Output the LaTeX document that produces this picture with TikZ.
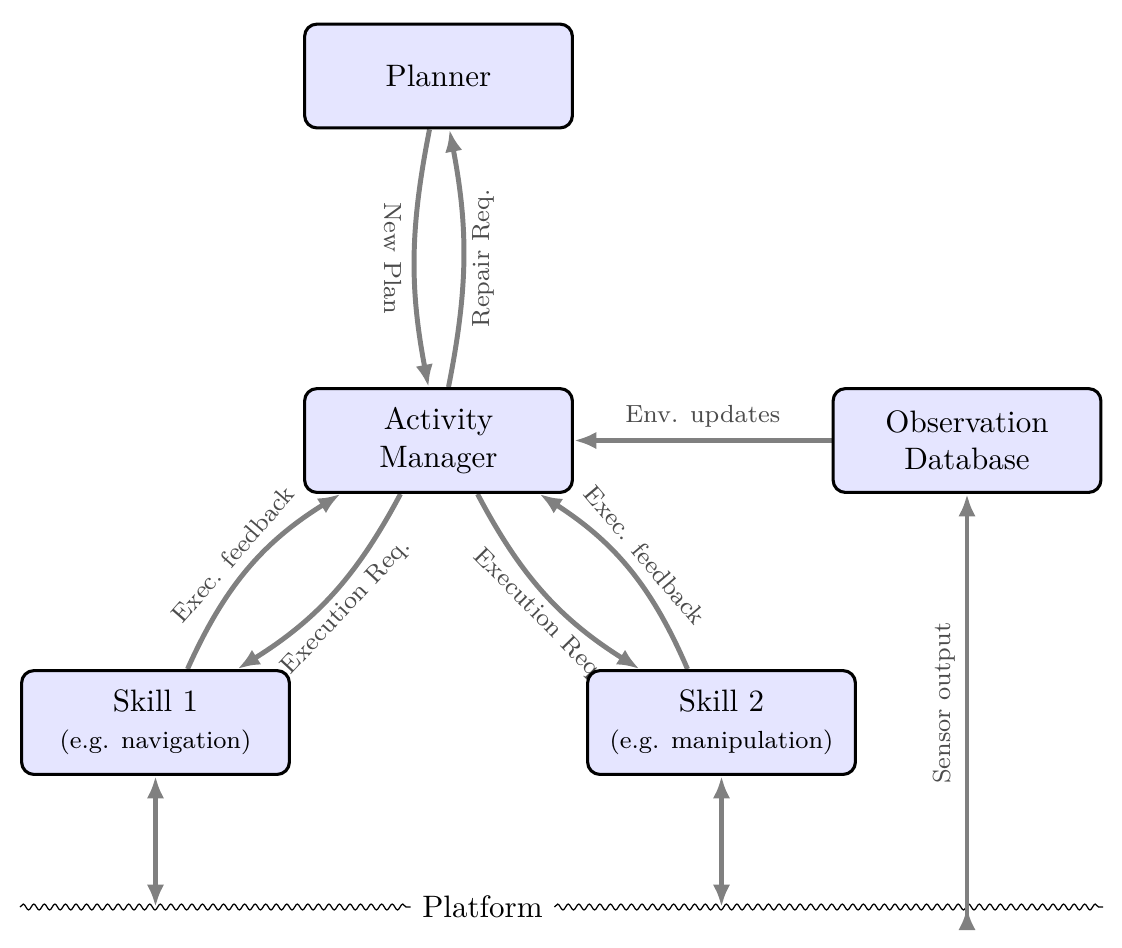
\documentclass[tikz,border=0pt]{standalone}
\usetikzlibrary{arrows.meta,calc,decorations.pathmorphing}
\pgfdeclarelayer{bg}
\pgfsetlayers{bg,main}
\begin{document}
\begin{tikzpicture}[x=0.32258pt, y=-0.32258pt,
  box/.style={draw=black, line width=1pt, fill=blue!10, rounded corners=4pt,
    minimum width=86.4pt, minimum height=33.5pt, align=center, font=\normalsize, inner sep=2pt},
  conn/.style={draw=gray, line width=1.6pt},
  lbl/.style={text=black!70, font=\footnotesize},
  wavy/.style={draw=black, line width=0.4pt, decorate,
    decoration={snake, segment length=3.4pt, amplitude=0.95pt}},
  >={Latex[length=7.2pt,width=5.6pt]}]
\useasboundingbox (0,0) rectangle (1122,947);
\node[box] (planner) at (438.5,76) {Planner};
\node[box] (am) at (438.5,440.5) {Activity\\Manager};
\node[box] (obs) at (967,440.5) {Observation\\Database};
\node[box] (s1) at (155.5,722.5) {Skill 1\\{\footnotesize (e.g. navigation)}};
\node[box] (s2) at (721.5,722.5) {Skill 2\\{\footnotesize (e.g. manipulation)}};
\node[font=\normalsize, inner xsep=3.6pt] (platform) at (482.5,907) {Platform};
\coordinate (pl) at (20,907);
\coordinate (pr) at (1103,907);
\coordinate (base) at (0,930);
\coordinate (sb) at (obs.south |- base);
\begin{pgfonlayer}{bg}
\draw[wavy] (pl) -- (platform.west);
\draw[wavy] (platform.east) -- (pr);
\draw[conn,->] ($(planner.south)+(-9,0)$) to[bend right=11]
  node[lbl, xshift=-7pt, rotate=-90] {New Plan} ($(am.north)+(-10,0)$);
\draw[conn,->] ($(am.north)+(10,0)$) to[bend right=11]
  node[lbl, xshift=6.5pt, rotate=90] {Repair Req.} ($(planner.south)+(11,0)$);
\draw[conn,->] ($(s1.north)+(32,0)$) to[bend left=17]
  node[lbl, sloped, above] {Exec. feedback} ($(am.south)+(-98,0)$);
\draw[conn,<-] ($(s1.north)+(82,0)$) to[bend right=15]
  node[lbl, sloped, below, inner sep=2pt] {Execution Req.} ($(am.south)+(-38,0)$);
\draw[conn,->] ($(am.south)+(39,0)$) to[bend right=15]
  node[lbl, sloped, below, inner sep=2pt, pos=0.55] {Execution Req.} ($(s2.north)+(-82,0)$);
\draw[conn,<-] ($(am.south)+(101,0)$) to[bend left=17]
  node[lbl, sloped, above] {Exec. feedback} ($(s2.north)+(-34,0)$);
\draw[conn,->] (obs) -- node[lbl, above] {Env. updates} (am);
\draw[conn,{Latex[reversed,length=7.2pt,width=5.6pt]}->] (sb) --
  node[lbl, pos=0.52, xshift=-7.4pt, rotate=90] {Sensor output} (obs.south);
\draw[conn,<->] (s1.south) -- (s1.south |- platform.center);
\draw[conn,<->] (s2.south) -- (s2.south |- platform.center);
\end{pgfonlayer}
\end{tikzpicture}
\end{document}
